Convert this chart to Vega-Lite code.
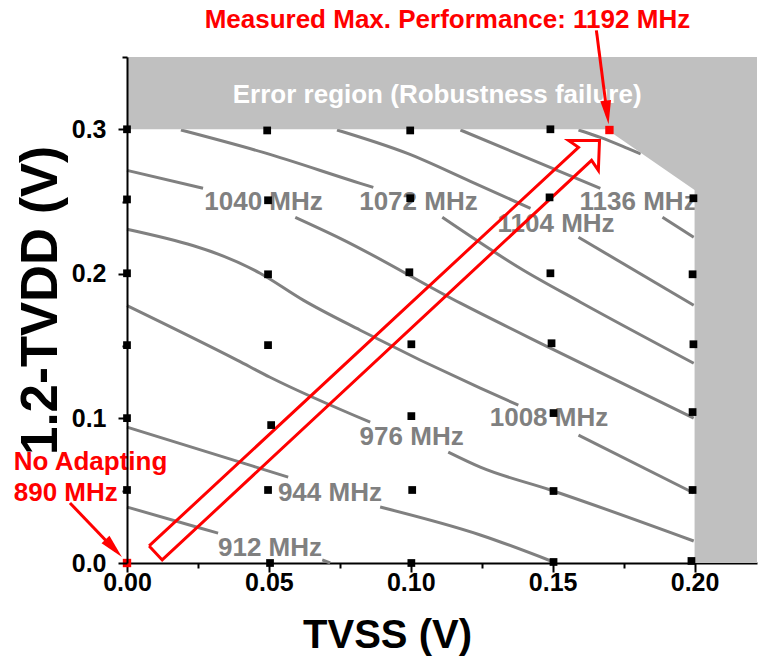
{
  "$schema": "https://vega.github.io/schema/vega-lite/v6.json",
  "width": 630,
  "height": 506,
  "autosize": "none",
  "padding": {"left": 127, "top": 57, "right": 2, "bottom": 100},
  "background": "white",
  "config": {
    "view": {"stroke": null},
    "font": "Liberation Sans",
    "axis": {
      "grid": false,
      "domainColor": "#000000",
      "domainWidth": 2,
      "tickColor": "#000000",
      "tickWidth": 2,
      "labelColor": "#000000",
      "titleColor": "#000000",
      "labelFont": "Liberation Sans",
      "labelFontWeight": "bold",
      "labelFontSize": 25,
      "labelFlush": false,
      "labelOverlap": false,
      "titleFont": "Liberation Sans",
      "titleFontWeight": "bold"
    }
  },
  "datasets": {
    "contours": [
      {"f": 912, "seg": "912a", "k": 0, "TVSS": 0.0, "dTVDD": 0.0387},
      {"f": 912, "seg": "912a", "k": 1, "TVSS": 0.0257, "dTVDD": 0.0242},
      {"f": 912, "seg": "912a", "k": 2, "TVSS": 0.0321, "dTVDD": 0.0207},
      {"f": 912, "seg": "912b", "k": 0, "TVSS": 0.0688, "dTVDD": 0.0021},
      {"f": 912, "seg": "912b", "k": 1, "TVSS": 0.0716, "dTVDD": 0.0},
      {"f": 944, "seg": "944a", "k": 0, "TVSS": 0.0, "dTVDD": 0.094},
      {"f": 944, "seg": "944a", "k": 1, "TVSS": 0.0444, "dTVDD": 0.067},
      {"f": 944, "seg": "944a", "k": 2, "TVSS": 0.0568, "dTVDD": 0.0594},
      {"f": 944, "seg": "944b", "k": 0, "TVSS": 0.0892, "dTVDD": 0.0387},
      {"f": 944, "seg": "944b", "k": 1, "TVSS": 0.1245, "dTVDD": 0.0194},
      {"f": 944, "seg": "944b", "k": 2, "TVSS": 0.1503, "dTVDD": 0.0007},
      {"f": 976, "seg": "976a", "k": 0, "TVSS": 0.0, "dTVDD": 0.178},
      {"f": 976, "seg": "976a", "k": 1, "TVSS": 0.0388, "dTVDD": 0.1403},
      {"f": 976, "seg": "976a", "k": 2, "TVSS": 0.0504, "dTVDD": 0.1285},
      {"f": 976, "seg": "976a", "k": 3, "TVSS": 0.0857, "dTVDD": 0.0974},
      {"f": 976, "seg": "976b", "k": 0, "TVSS": 0.1132, "dTVDD": 0.0767},
      {"f": 976, "seg": "976b", "k": 1, "TVSS": 0.1245, "dTVDD": 0.0663},
      {"f": 976, "seg": "976b", "k": 2, "TVSS": 0.1492, "dTVDD": 0.0505},
      {"f": 976, "seg": "976b", "k": 3, "TVSS": 0.1997, "dTVDD": 0.0152},
      {"f": 1008, "seg": "1008a", "k": 0, "TVSS": 0.0, "dTVDD": 0.2308},
      {"f": 1008, "seg": "1008a", "k": 1, "TVSS": 0.0469, "dTVDD": 0.2004},
      {"f": 1008, "seg": "1008a", "k": 2, "TVSS": 0.0621, "dTVDD": 0.1818},
      {"f": 1008, "seg": "1008a", "k": 3, "TVSS": 0.0822, "dTVDD": 0.161},
      {"f": 1008, "seg": "1008a", "k": 4, "TVSS": 0.1245, "dTVDD": 0.1209},
      {"f": 1008, "seg": "1008a", "k": 5, "TVSS": 0.1379, "dTVDD": 0.1092},
      {"f": 1008, "seg": "1008b", "k": 0, "TVSS": 0.1591, "dTVDD": 0.0885},
      {"f": 1008, "seg": "1008b", "k": 1, "TVSS": 0.1997, "dTVDD": 0.0484},
      {"f": 1040, "seg": "1040a", "k": 0, "TVSS": 0.0, "dTVDD": 0.2716},
      {"f": 1040, "seg": "1040a", "k": 1, "TVSS": 0.0268, "dTVDD": 0.2592},
      {"f": 1040, "seg": "1040b", "k": 0, "TVSS": 0.0593, "dTVDD": 0.2391},
      {"f": 1040, "seg": "1040b", "k": 1, "TVSS": 0.0751, "dTVDD": 0.2246},
      {"f": 1040, "seg": "1040b", "k": 2, "TVSS": 0.1175, "dTVDD": 0.1797},
      {"f": 1040, "seg": "1040b", "k": 3, "TVSS": 0.1492, "dTVDD": 0.1486},
      {"f": 1040, "seg": "1040b", "k": 4, "TVSS": 0.1997, "dTVDD": 0.1002},
      {"f": 1072, "seg": "1072a", "k": 0, "TVSS": 0.019, "dTVDD": 0.2995},
      {"f": 1072, "seg": "1072a", "k": 1, "TVSS": 0.048, "dTVDD": 0.284},
      {"f": 1072, "seg": "1072a", "k": 2, "TVSS": 0.0822, "dTVDD": 0.2626},
      {"f": 1072, "seg": "1072a", "k": 3, "TVSS": 0.0868, "dTVDD": 0.2598},
      {"f": 1072, "seg": "1072b", "k": 0, "TVSS": 0.1111, "dTVDD": 0.2391},
      {"f": 1072, "seg": "1072b", "k": 1, "TVSS": 0.1397, "dTVDD": 0.2025},
      {"f": 1072, "seg": "1072b", "k": 2, "TVSS": 0.1598, "dTVDD": 0.1804},
      {"f": 1072, "seg": "1072b", "k": 3, "TVSS": 0.1997, "dTVDD": 0.1382},
      {"f": 1104, "seg": "1104a", "k": 0, "TVSS": 0.074, "dTVDD": 0.2995},
      {"f": 1104, "seg": "1104a", "k": 1, "TVSS": 0.0988, "dTVDD": 0.2833},
      {"f": 1104, "seg": "1104a", "k": 2, "TVSS": 0.121, "dTVDD": 0.264},
      {"f": 1104, "seg": "1104a", "k": 3, "TVSS": 0.1422, "dTVDD": 0.2453},
      {"f": 1104, "seg": "1104b", "k": 0, "TVSS": 0.1591, "dTVDD": 0.2253},
      {"f": 1104, "seg": "1104b", "k": 1, "TVSS": 0.1997, "dTVDD": 0.1783},
      {"f": 1136, "seg": "1136a", "k": 0, "TVSS": 0.1175, "dTVDD": 0.2995},
      {"f": 1136, "seg": "1136a", "k": 1, "TVSS": 0.1457, "dTVDD": 0.2764},
      {"f": 1136, "seg": "1136a", "k": 2, "TVSS": 0.1668, "dTVDD": 0.2592},
      {"f": 1136, "seg": "1136b", "k": 0, "TVSS": 0.1887, "dTVDD": 0.2391},
      {"f": 1136, "seg": "1136b", "k": 1, "TVSS": 0.1997, "dTVDD": 0.2253},
      {"f": 1168, "seg": "1168a", "k": 0, "TVSS": 0.1591, "dTVDD": 0.2995},
      {"f": 1168, "seg": "1168a", "k": 1, "TVSS": 0.1668, "dTVDD": 0.2944},
      {"f": 1168, "seg": "1168a", "k": 2, "TVSS": 0.1764, "dTVDD": 0.2868},
      {"f": 1168, "seg": "1168a", "k": 3, "TVSS": 0.181, "dTVDD": 0.283}
    ],
    "contourLabels": [
      {"label": "912 MHz", "TVSS": 0.0504, "dTVDD": 0.0104},
      {"label": "944 MHz", "TVSS": 0.0715, "dTVDD": 0.0484},
      {"label": "976 MHz", "TVSS": 0.1003, "dTVDD": 0.0872},
      {"label": "1008 MHz", "TVSS": 0.1487, "dTVDD": 0.1003},
      {"label": "1040 MHz", "TVSS": 0.0481, "dTVDD": 0.2497},
      {"label": "1072 MHz", "TVSS": 0.1027, "dTVDD": 0.2497},
      {"label": "1104 MHz", "TVSS": 0.1512, "dTVDD": 0.2345},
      {"label": "1136 MHz", "TVSS": 0.1801, "dTVDD": 0.2497}
    ],
    "errorTop": [
      {"TVSS": 0.0, "upper": 0.35, "lower": 0.3},
      {"TVSS": 0.169, "upper": 0.35, "lower": 0.3},
      {"TVSS": 0.2, "upper": 0.35, "lower": 0.258},
      {"TVSS": 0.222, "upper": 0.35, "lower": 0.258}
    ],
    "errorRight": [
      {"TVSS": 0.2, "TVSS2": 0.222, "dTVDD": 0.0, "dTVDD2": 0.35}
    ],
    "errorText": [
      {"text": "Error region (Robustness failure)", "TVSS": 0.1093, "dTVDD": 0.3237}
    ],
    "sweep": [
      {"k": 0, "TVSS": 0.0078, "dTVDD": 0.0118},
      {"k": 1, "TVSS": 0.1591, "dTVDD": 0.2875},
      {"k": 2, "TVSS": 0.1556, "dTVDD": 0.2923},
      {"k": 3, "TVSS": 0.1665, "dTVDD": 0.2923},
      {"k": 4, "TVSS": 0.1661, "dTVDD": 0.2716},
      {"k": 5, "TVSS": 0.1637, "dTVDD": 0.2785},
      {"k": 6, "TVSS": 0.0124, "dTVDD": 0.0021},
      {"k": 7, "TVSS": 0.0078, "dTVDD": 0.0118}
    ],
    "measured": [
      {"TVSS": 0.0, "dTVDD": 0.0505}, {"TVSS": 0.0, "dTVDD": 0.1002},
      {"TVSS": 0.0, "dTVDD": 0.1507}, {"TVSS": 0.0, "dTVDD": 0.2004},
      {"TVSS": 0.0, "dTVDD": 0.2515}, {"TVSS": 0.0, "dTVDD": 0.3},
      {"TVSS": 0.0504, "dTVDD": 0.0}, {"TVSS": 0.0497, "dTVDD": 0.0505},
      {"TVSS": 0.0508, "dTVDD": 0.0954}, {"TVSS": 0.0497, "dTVDD": 0.1507},
      {"TVSS": 0.0497, "dTVDD": 0.1997}, {"TVSS": 0.0497, "dTVDD": 0.2509},
      {"TVSS": 0.0494, "dTVDD": 0.2992},
      {"TVSS": 0.1002, "dTVDD": 0.0}, {"TVSS": 0.1005, "dTVDD": 0.0505},
      {"TVSS": 0.1002, "dTVDD": 0.1016}, {"TVSS": 0.1002, "dTVDD": 0.1513},
      {"TVSS": 0.0995, "dTVDD": 0.2011}, {"TVSS": 0.0998, "dTVDD": 0.2523},
      {"TVSS": 0.0998, "dTVDD": 0.2992},
      {"TVSS": 0.1503, "dTVDD": 0.0007}, {"TVSS": 0.1503, "dTVDD": 0.0498},
      {"TVSS": 0.1503, "dTVDD": 0.1037}, {"TVSS": 0.1496, "dTVDD": 0.152},
      {"TVSS": 0.1492, "dTVDD": 0.2004}, {"TVSS": 0.1489, "dTVDD": 0.2529},
      {"TVSS": 0.1492, "dTVDD": 0.3},
      {"TVSS": 0.1989, "dTVDD": 0.0014}, {"TVSS": 0.1993, "dTVDD": 0.0505},
      {"TVSS": 0.1993, "dTVDD": 0.1044}, {"TVSS": 0.1996, "dTVDD": 0.1513},
      {"TVSS": 0.1993, "dTVDD": 0.1997}, {"TVSS": 0.1996, "dTVDD": 0.2523}
    ],
    "highlights": [
      {"case": "No Adapting", "MHz": 890, "TVSS": 0.0, "dTVDD": 0.0},
      {"case": "Measured Max. Performance", "MHz": 1192, "TVSS": 0.17, "dTVDD": 0.2995}
    ],
    "calloutCentered": [
      {"text": "Measured Max. Performance: 1192 MHz", "TVSS": 0.1129, "dTVDD": 0.3753}
    ],
    "calloutLeft": [
      {"text": "No Adapting", "TVSS": -0.0399, "dTVDD": 0.0698},
      {"text": "890 MHz", "TVSS": -0.0399, "dTVDD": 0.0484}
    ],
    "pointers": [
      {"id": "max", "k": 0, "TVSS": 0.1654, "dTVDD": 0.3684},
      {"id": "max", "k": 1, "TVSS": 0.1693, "dTVDD": 0.3089},
      {"id": "base", "k": 0, "TVSS": -0.0201, "dTVDD": 0.0415},
      {"id": "base", "k": 1, "TVSS": -0.0039, "dTVDD": 0.0083}
    ],
    "tipMax": [{"TVSS": 0.1697, "dTVDD": 0.3034}],
    "tipBase": [{"TVSS": -0.0018, "dTVDD": 0.0041}]
  },
  "layer": [
    {
      "data": {"name": "contours"},
      "mark": {"type": "line", "color": "#808080", "strokeWidth": 3, "interpolate": "monotone"},
      "encoding": {
        "x": {
          "field": "TVSS", "type": "quantitative",
          "scale": {"domain": [0, 0.222], "nice": false, "zero": false},
          "axis": {
            "values": [0, 0.05, 0.1, 0.15, 0.2], "format": ".2f",
            "tickSize": 9, "labelPadding": 18, "labelBaseline": "alphabetic",
            "title": "TVSS (V)", "titleFontSize": 40,
            "titleX": 260, "titleY": 84, "titleAlign": "center", "titleBaseline": "alphabetic",
            "zindex": 0
          }
        },
        "y": {
          "field": "dTVDD", "type": "quantitative",
          "scale": {"domain": [0, 0.35], "nice": false, "zero": false},
          "axis": {
            "values": [0, 0.1, 0.2, 0.3], "format": ".1f",
            "tickSize": 9, "labelPadding": 12, "labelBaseline": "middle",
            "title": "1.2-TVDD (V)", "titleFontSize": 51,
            "titleAngle": -90, "titleX": -86, "titleY": 243, "titleAlign": "center", "titleBaseline": "middle",
            "zindex": 1
          }
        },
        "detail": {"field": "seg"},
        "order": {"field": "k"}
      }
    },
    {
      "data": {"name": "contourLabels"},
      "mark": {"type": "text", "color": "#808080", "font": "Liberation Sans", "fontWeight": "bold", "fontSize": 26, "align": "center", "baseline": "middle"},
      "encoding": {
        "x": {"field": "TVSS", "type": "quantitative", "scale": {"domain": [0, 0.222], "nice": false, "zero": false}, "axis": null},
        "y": {"field": "dTVDD", "type": "quantitative", "scale": {"domain": [0, 0.35], "nice": false, "zero": false}, "axis": null},
        "text": {"field": "label"}
      }
    },
    {
      "data": {"name": "errorTop"},
      "mark": {"type": "area", "color": "#C0C0C0", "opacity": 1},
      "encoding": {
        "x": {"field": "TVSS", "type": "quantitative", "scale": {"domain": [0, 0.222], "nice": false, "zero": false}, "axis": null},
        "y": {"field": "upper", "type": "quantitative", "scale": {"domain": [0, 0.35], "nice": false, "zero": false}, "axis": null},
        "y2": {"field": "lower"}
      }
    },
    {
      "data": {"name": "errorRight"},
      "mark": {"type": "rect", "color": "#C0C0C0"},
      "encoding": {
        "x": {"field": "TVSS", "type": "quantitative", "scale": {"domain": [0, 0.222], "nice": false, "zero": false}, "axis": null},
        "x2": {"field": "TVSS2"},
        "y": {"field": "dTVDD", "type": "quantitative", "scale": {"domain": [0, 0.35], "nice": false, "zero": false}, "axis": null},
        "y2": {"field": "dTVDD2"}
      }
    },
    {
      "data": {"name": "errorText"},
      "mark": {"type": "text", "color": "#FFFFFF", "font": "Liberation Sans", "fontWeight": "bold", "fontSize": 26, "align": "center", "baseline": "middle"},
      "encoding": {
        "x": {"field": "TVSS", "type": "quantitative", "scale": {"domain": [0, 0.222], "nice": false, "zero": false}, "axis": null},
        "y": {"field": "dTVDD", "type": "quantitative", "scale": {"domain": [0, 0.35], "nice": false, "zero": false}, "axis": null},
        "text": {"field": "text"}
      }
    },
    {
      "data": {"name": "sweep"},
      "mark": {"type": "line", "color": "#FF0000", "strokeWidth": 3, "strokeJoin": "miter"},
      "encoding": {
        "x": {"field": "TVSS", "type": "quantitative", "scale": {"domain": [0, 0.222], "nice": false, "zero": false}, "axis": null},
        "y": {"field": "dTVDD", "type": "quantitative", "scale": {"domain": [0, 0.35], "nice": false, "zero": false}, "axis": null},
        "order": {"field": "k"}
      }
    },
    {
      "data": {"name": "measured"},
      "mark": {"type": "point", "shape": "square", "filled": true, "color": "#000000", "size": 60, "opacity": 1},
      "encoding": {
        "x": {
          "field": "TVSS", "type": "quantitative",
          "scale": {"domain": [0, 0.222], "nice": false, "zero": false},
          "axis": {"values": [0.025, 0.075, 0.125, 0.175], "labels": false, "domain": false, "tickSize": 5, "title": null, "orient": "bottom"}
        },
        "y": {
          "field": "dTVDD", "type": "quantitative",
          "scale": {"domain": [0, 0.35], "nice": false, "zero": false},
          "axis": {"values": [0.05, 0.15, 0.25, 0.35], "labels": false, "domain": false, "tickSize": 5, "title": null, "orient": "left", "zindex": 1}
        }
      }
    },
    {
      "data": {"name": "highlights"},
      "mark": {"type": "point", "shape": "square", "filled": true, "color": "#FF0000", "size": 70, "opacity": 1},
      "encoding": {
        "x": {"field": "TVSS", "type": "quantitative", "scale": {"domain": [0, 0.222], "nice": false, "zero": false}, "axis": null},
        "y": {"field": "dTVDD", "type": "quantitative", "scale": {"domain": [0, 0.35], "nice": false, "zero": false}, "axis": null}
      }
    },
    {
      "data": {"name": "calloutCentered"},
      "mark": {"type": "text", "color": "#FF0000", "font": "Liberation Sans", "fontWeight": "bold", "fontSize": 26, "align": "center", "baseline": "middle"},
      "encoding": {
        "x": {"field": "TVSS", "type": "quantitative", "scale": {"domain": [0, 0.222], "nice": false, "zero": false}, "axis": null},
        "y": {"field": "dTVDD", "type": "quantitative", "scale": {"domain": [0, 0.35], "nice": false, "zero": false}, "axis": null},
        "text": {"field": "text"}
      }
    },
    {
      "data": {"name": "calloutLeft"},
      "mark": {"type": "text", "color": "#FF0000", "font": "Liberation Sans", "fontWeight": "bold", "fontSize": 26, "align": "left", "baseline": "middle"},
      "encoding": {
        "x": {"field": "TVSS", "type": "quantitative", "scale": {"domain": [0, 0.222], "nice": false, "zero": false}, "axis": null},
        "y": {"field": "dTVDD", "type": "quantitative", "scale": {"domain": [0, 0.35], "nice": false, "zero": false}, "axis": null},
        "text": {"field": "text"}
      }
    },
    {
      "data": {"name": "pointers"},
      "mark": {"type": "line", "color": "#FF0000", "strokeWidth": 3},
      "encoding": {
        "x": {"field": "TVSS", "type": "quantitative", "scale": {"domain": [0, 0.222], "nice": false, "zero": false}, "axis": null},
        "y": {"field": "dTVDD", "type": "quantitative", "scale": {"domain": [0, 0.35], "nice": false, "zero": false}, "axis": null},
        "detail": {"field": "id"},
        "order": {"field": "k"}
      }
    },
    {
      "data": {"name": "tipMax"},
      "mark": {"type": "point", "shape": "M0,0L0.45,2L-0.45,2Z", "filled": true, "color": "#FF0000", "size": 576, "angle": 173, "opacity": 1, "strokeWidth": 0},
      "encoding": {
        "x": {"field": "TVSS", "type": "quantitative", "scale": {"domain": [0, 0.222], "nice": false, "zero": false}, "axis": null},
        "y": {"field": "dTVDD", "type": "quantitative", "scale": {"domain": [0, 0.35], "nice": false, "zero": false}, "axis": null}
      }
    },
    {
      "data": {"name": "tipBase"},
      "mark": {"type": "point", "shape": "M0,0L0.45,2L-0.45,2Z", "filled": true, "color": "#FF0000", "size": 576, "angle": 137, "opacity": 1, "strokeWidth": 0},
      "encoding": {
        "x": {"field": "TVSS", "type": "quantitative", "scale": {"domain": [0, 0.222], "nice": false, "zero": false}, "axis": null},
        "y": {"field": "dTVDD", "type": "quantitative", "scale": {"domain": [0, 0.35], "nice": false, "zero": false}, "axis": null}
      }
    }
  ],
  "resolve": {"axis": {"x": "independent", "y": "independent"}}
}
